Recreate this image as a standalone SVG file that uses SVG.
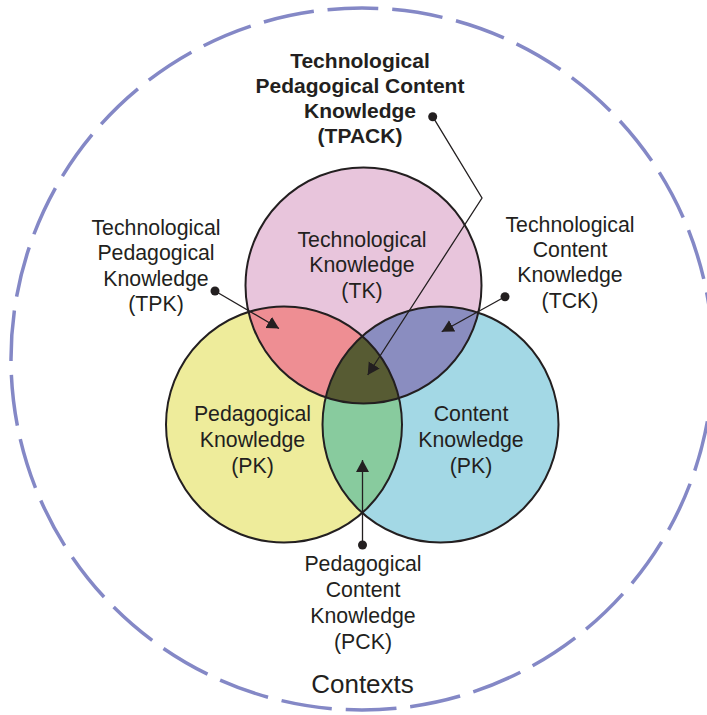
<svg xmlns="http://www.w3.org/2000/svg" width="707" height="715" viewBox="0 0 707 715">
<style>
  text { font-family: "Liberation Sans", Arial, sans-serif; fill: #231f20; text-anchor: middle; }
  .lbl { font-size: 21.3px; }
  .title { font-size: 21px; font-weight: bold; }
  .ctx { font-size: 26px; }
  .outline { fill: none; stroke: #231f20; stroke-width: 2; }
  .conn { fill: none; stroke: #231f20; stroke-width: 1.3; }
  .dot { fill: #231f20; }
</style>
<defs>
  <clipPath id="cTK"><circle cx="363.5" cy="285.5" r="118"/></clipPath>
  <clipPath id="cPK"><circle cx="284" cy="424.5" r="118"/></clipPath>
  <clipPath id="cCK"><circle cx="440.5" cy="424.5" r="118"/></clipPath>
  <marker id="arr" markerUnits="userSpaceOnUse" markerWidth="14" markerHeight="14" refX="12" refY="6.5" orient="auto">
    <path d="M0,0 L12,6.5 L0,13 Z" fill="#231f20"/>
  </marker>
</defs>

<g id="contexts">
  <circle cx="362" cy="359" r="351" fill="none" stroke="#8488c6" stroke-width="3.5" pathLength="3400" stroke-dasharray="78.6 21.4" stroke-dashoffset="3.3"/>
  <text class="ctx" x="362.5" y="693">Contexts</text>
</g>

<g id="TK">
  <circle cx="363.5" cy="285.5" r="118" fill="#e8c5dc"/>
</g>
<g id="PK">
  <circle cx="284" cy="424.5" r="118" fill="#eeec9b"/>
</g>
<g id="CK">
  <circle cx="440.5" cy="424.5" r="118" fill="#a3d8e5"/>
</g>
<g id="TPK">
  <circle cx="284" cy="424.5" r="118" fill="#ee8e93" clip-path="url(#cTK)"/>
</g>
<g id="TCK">
  <circle cx="440.5" cy="424.5" r="118" fill="#8a8dc0" clip-path="url(#cTK)"/>
</g>
<g id="PCK">
  <circle cx="440.5" cy="424.5" r="118" fill="#88cb9e" clip-path="url(#cPK)"/>
</g>
<g id="TPACK">
  <g clip-path="url(#cTK)">
    <circle cx="440.5" cy="424.5" r="118" fill="#575b33" clip-path="url(#cPK)"/>
  </g>
</g>
<g id="outlines">
  <circle class="outline" cx="363.5" cy="285.5" r="118"/>
  <circle class="outline" cx="284" cy="424.5" r="118"/>
  <circle class="outline" cx="440.5" cy="424.5" r="118"/>
</g>

<g id="TK-label">
  <text class="lbl" x="362" y="246.5">Technological</text>
  <text class="lbl" x="362" y="272">Knowledge</text>
  <text class="lbl" x="362" y="297.5">(TK)</text>
</g>
<g id="PK-label">
  <text class="lbl" x="252.5" y="421">Pedagogical</text>
  <text class="lbl" x="252.5" y="447">Knowledge</text>
  <text class="lbl" x="252.5" y="473">(PK)</text>
</g>
<g id="CK-label">
  <text class="lbl" x="471" y="421">Content</text>
  <text class="lbl" x="471" y="447">Knowledge</text>
  <text class="lbl" x="471" y="473">(PK)</text>
</g>
<g id="TPACK-label">
  <text class="title" x="360" y="68">Technological</text>
  <text class="title" x="360" y="93">Pedagogical Content</text>
  <text class="title" x="360" y="118">Knowledge</text>
  <text class="title" x="360" y="143">(TPACK)</text>
</g>
<g id="TPK-label">
  <text class="lbl" x="156" y="234.5">Technological</text>
  <text class="lbl" x="156" y="260">Pedagogical</text>
  <text class="lbl" x="156" y="285.5">Knowledge</text>
  <text class="lbl" x="156" y="311">(TPK)</text>
</g>
<g id="TCK-label">
  <text class="lbl" x="570" y="231.5">Technological</text>
  <text class="lbl" x="570" y="257">Content</text>
  <text class="lbl" x="570" y="282">Knowledge</text>
  <text class="lbl" x="570" y="307.5">(TCK)</text>
</g>
<g id="PCK-label">
  <text class="lbl" x="363" y="571">Pedagogical</text>
  <text class="lbl" x="363" y="597">Content</text>
  <text class="lbl" x="363" y="623">Knowledge</text>
  <text class="lbl" x="363" y="648.5">(PCK)</text>
</g>

<g id="connectors">
  <polyline class="conn" points="432.7,116.7 482,198 367.7,375" marker-end="url(#arr)"/>
  <circle class="dot" cx="432.7" cy="116.7" r="4.5"/>
  <line class="conn" x1="215" y1="291" x2="279" y2="328.5" marker-end="url(#arr)"/>
  <circle class="dot" cx="215" cy="291" r="4.5"/>
  <line class="conn" x1="505" y1="296.7" x2="441.7" y2="331.7" marker-end="url(#arr)"/>
  <circle class="dot" cx="505" cy="296.7" r="4.5"/>
  <line class="conn" x1="362.5" y1="545" x2="362.5" y2="460" marker-end="url(#arr)"/>
  <circle class="dot" cx="362.5" cy="545" r="4.5"/>
</g>
</svg>
